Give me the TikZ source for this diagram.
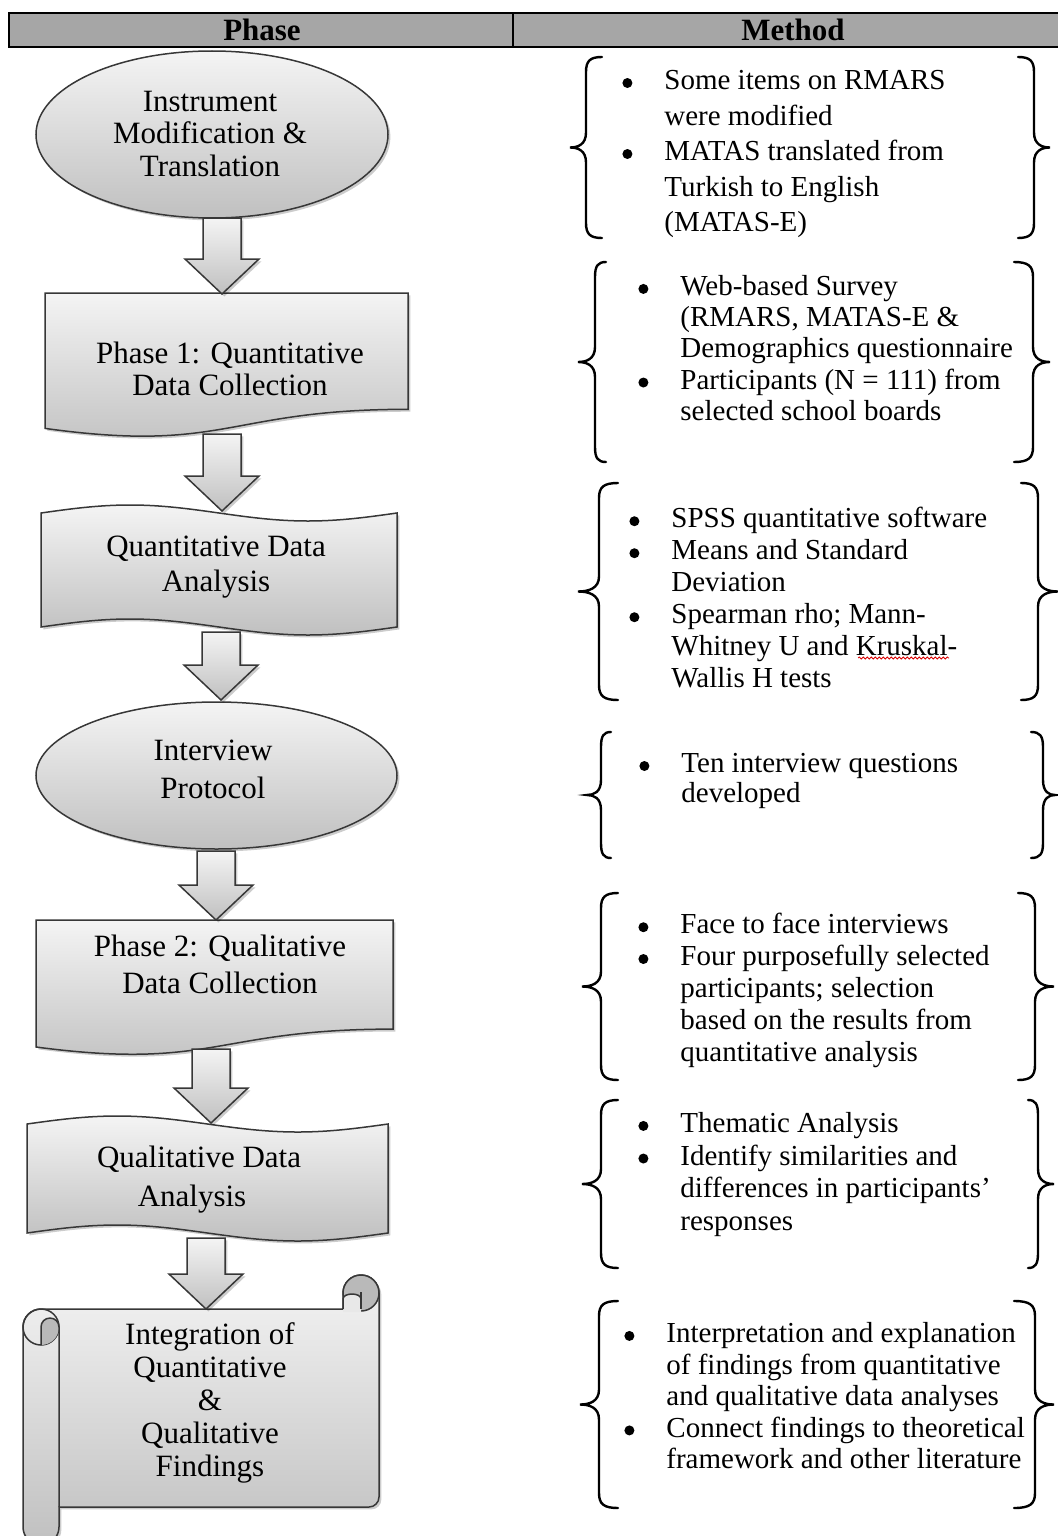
\documentclass[tikz,border=0pt]{standalone}
\usepackage{fontspec}
\setmainfont{Liberation Serif}
\usetikzlibrary{shadows,decorations.pathmorphing,calc}
\definecolor{gtop}{RGB}{244,244,244}
\definecolor{gbot}{RGB}{192,192,192}
\definecolor{hdr}{RGB}{166,166,166}
\definecolor{curl}{RGB}{185,185,185}
\definecolor{notch}{RGB}{232,232,232}
\definecolor{edge}{RGB}{55,55,55}
\newcommand{\itm}{\makebox[21pt][l]{\tikz[baseline=0pt]\fill[black] (2.5pt,3.3pt) circle [radius=2.5pt];}}
\newcommand{\cnt}{\hspace*{21pt}}
\newcommand{\blockarrow}[2]{%
  \path[shp] let \p1=(#1), \p2=(#2) in
  (\x1-9.5pt,\y1) -- (\x1+9.5pt,\y1) -- (\x1+9.5pt,\y2+17.5pt) -- (\x1+18.5pt,\y2+17.5pt)
  -- (\x2,\y2) -- (\x1-18.5pt,\y2+17.5pt) -- (\x1-9.5pt,\y2+17.5pt) -- cycle;}
% #1 tip x, #2 vertical x, #3 end x, #4 top y, #5 bottom y
\newcommand{\curlybrace}[5]{%
  \draw[brc] (#3,#4) .. controls ({#2+0.25*(#3-#2)},#4) and (#2,#4+4) .. (#2,#4+15)
  -- (#2,{(#4+#5)/2-15}) .. controls (#2,{(#4+#5)/2-3}) and ({#1+0.5*(#2-#1)},{(#4+#5)/2}) .. (#1,{(#4+#5)/2})
  .. controls ({#1+0.5*(#2-#1)},{(#4+#5)/2}) and (#2,{(#4+#5)/2+3}) .. (#2,{(#4+#5)/2+15})
  -- (#2,#5-15) .. controls (#2,#5-4) and ({#2+0.25*(#3-#2)},#5) .. (#3,#5);}
\tikzset{
  shp/.style={draw=edge, line width=0.75pt, top color=gtop, bottom color=gbot,
    drop shadow={shadow xshift=1.2pt, shadow yshift=-1.2pt, opacity=0.2, fill=black}},
  eline/.style={draw=edge, line width=0.75pt},
  brc/.style={draw=black, line width=1.2pt, line cap=round},
  ltxt/.style={align=center, inner sep=0pt, font=\fontsize{15.5pt}{#1}\selectfont},
  mtxt/.style={align=left, inner sep=0pt, anchor=north west, font=\fontsize{14.5pt}{#1}\selectfont},
  hd/.style={inner sep=0pt, font=\fontsize{15.5pt}{18pt}\selectfont\bfseries},
}
\begin{document}
\begin{tikzpicture}[x=0.5pt, y=-0.5pt]
\useasboundingbox (0,0) rectangle (1058,1536);

% header
\path[draw=black, line width=1pt, fill=hdr] (9,13) rectangle (1066,47);
\draw[line width=1pt] (513,13) -- (513,47);
\node[hd] (ph) at (262,30) {Phase};
\node[hd] (mt) at (793,30) {Method};

% shapes of the phase column
\path[shp] (212,134.5) ellipse [x radius=88pt, y radius=41.75pt];
\path[shp] (45,293) -- (408,293) -- (408,409.3)
  .. controls (226.5,409.3) and (226.5,453.6) .. (45,428.4) -- cycle;
\path[shp] (41,513) sin (130,505) cos (219,513) sin (308,521) cos (397,513)
  -- (397,627) sin (308,635) cos (219,627) sin (130,619) cos (41,627) -- cycle;
\path[shp] (216.5,775.5) ellipse [x radius=90.25pt, y radius=36.75pt];
\path[shp] (36,920) -- (393,920) -- (393,1029.1)
  .. controls (214.5,1029.1) and (214.5,1070.6) .. (36,1047) -- cycle;
\path[shp] (27,1124) sin (117.25,1116) cos (207.5,1124) sin (297.75,1132) cos (388,1124)
  -- (388,1233) sin (297.75,1241) cos (207.5,1233) sin (117.25,1225) cos (27,1233) -- cycle;
% scroll
\path[shp] (41,1309) -- (343,1309) -- (343,1293)
  .. controls (343,1283.06) and (351.06,1275) .. (361,1275)
  .. controls (370.94,1275) and (379,1283.06) .. (379,1293)
  -- (379,1497) .. controls (379,1502.52) and (374.52,1507) .. (369,1507)
  -- (59,1507) -- (59,1527)
  .. controls (59,1536.94) and (50.94,1545) .. (41,1545)
  .. controls (31.06,1545) and (23,1536.94) .. (23,1527)
  -- (23,1327) .. controls (23,1317.06) and (31.06,1309) .. (41,1309) -- cycle;
% right curl of the scroll
\path[eline, fill=curl] (361,1293) circle [radius=9pt];
\path[fill=notch] (343,1312) -- (343,1299) .. controls (343,1296) and (347,1294) .. (352,1294)
  .. controls (357,1294) and (361,1296) .. (361,1299) -- (361,1312) -- cycle;
\draw[eline] (343,1309) -- (343,1299) .. controls (343,1296) and (347,1294) .. (352,1294)
  .. controls (357,1294) and (361,1296) .. (361,1299);
\draw[eline] (361,1292) -- (361,1309);
% left curl of the scroll
\draw[eline] (41,1327) circle [radius=9pt];
\path[fill=curl] (41,1345) -- (41,1327) .. controls (41,1322) and (45,1318) .. (50,1318)
  .. controls (55,1318) and (59,1322) .. (59,1327)
  .. controls (59,1336.94) and (50.94,1345) .. (41,1345) -- cycle;
\draw[eline] (41,1345) -- (41,1327) .. controls (41,1322) and (45,1318) .. (50,1318)
  .. controls (55,1318) and (59,1322) .. (59,1327) -- (59,1507);

% texts of the phase column
\node[ltxt=16.25pt] (e1) at (210,134) {Instrument\\Modification \&\\Translation};
\node[ltxt=16pt] (b1) at (230,369) {Phase 1: Quantitative\\Data Collection};
\node[ltxt=17.5pt] (w1) at (216,567) {Quantitative Data\\Analysis};
\node[ltxt=19pt] (e2) at (213,769) {Interview\\Protocol};
\node[ltxt=18.5pt] (b2) at (220,964) {Phase 2: Qualitative\\Data Collection};
\node[ltxt=19.5pt] (w2) at (199,1180) {Qualitative Data\\Analysis\hspace*{7pt}};
\node[ltxt=16.6pt] (sc) at (210,1403) {Integration of\\Quantitative\\\&\\Qualitative\\Findings};

% block arrows
\coordinate (a1s) at (222,218);  \coordinate (a1e) at (222,294);
\coordinate (a2s) at (222,434);  \coordinate (a2e) at (222,511);
\coordinate (a3s) at (221,632);  \coordinate (a3e) at (221,700);
\coordinate (a4s) at (216,851);  \coordinate (a4e) at (216,920);
\coordinate (a5s) at (211,1049); \coordinate (a5e) at (211,1123);
\coordinate (a6s) at (206,1238); \coordinate (a6e) at (206,1309);
\blockarrow{a1s}{a1e}
\blockarrow{a2s}{a2e}
\blockarrow{a3s}{a3e}
\blockarrow{a4s}{a4e}
\blockarrow{a5s}{a5e}
\blockarrow{a6s}{a6e}

% braces of the method column
\curlybrace{570}{586}{602}{57}{238}
\curlybrace{1050}{1034}{1018}{57}{238}
\curlybrace{578}{595}{606}{262}{462}
\curlybrace{1050}{1033}{1014}{262}{462}
\curlybrace{578}{599}{618}{483}{700}
\curlybrace{1058}{1038}{1021}{483}{700}
\curlybrace{587}{601}{611}{732}{858}
\curlybrace{1055}{1043}{1031}{732}{858}
\curlybrace{582}{601}{618}{893}{1080}
\curlybrace{1054}{1035}{1018}{893}{1080}
\curlybrace{582}{601}{618}{1100}{1268}
\curlybrace{1054}{1038}{1028}{1100}{1268}
\curlybrace{580}{599}{618}{1301}{1508}
\curlybrace{1054}{1035}{1014}{1301}{1508}

% texts of the method column
\node[mtxt=17.75pt] (m1) at (622,70) {\itm Some items on RMARS\\ \cnt were modified\\ \itm MATAS translated from\\ \cnt Turkish to English\\ \cnt (MATAS-E)};
\node[mtxt=15.6pt] (m2) at (638,275) {\itm Web-based Survey\\ \cnt (RMARS, MATAS-E \&\\ \cnt Demographics questionnaire\\ \itm Participants (N = 111) from\\ \cnt selected school boards};
\node[mtxt=16pt] (m3) at (629,507) {\itm SPSS quantitative software\\ \itm Means and Standard\\ \cnt Deviation\\ \itm Spearman rho; Mann-\\ \cnt Whitney U and Kruskal-\\ \cnt Wallis H tests};
\node[mtxt=15pt] (m4) at (639,753) {\itm Ten interview questions\\ \cnt developed};
\node[mtxt=15.9pt] (m5) at (638,913) {\itm Face to face interviews\\ \itm Four purposefully selected\\ \cnt participants; selection\\ \cnt based on the results from\\ \cnt quantitative analysis};
\node[mtxt=16.3pt] (m6) at (638,1112) {\itm Thematic Analysis\\ \itm Identify similarities and\\ \cnt differences in participants'\\ \cnt responses};
\node[mtxt=15.75pt] (m7) at (624,1322) {\itm Interpretation and explanation\\ \cnt of findings from quantitative\\ \cnt and qualitative data analyses\\ \itm Connect findings to theoretical\\ \cnt framework and other literature};

% spell-check mark under Kruskal
\draw[red!85!black, line width=0.4pt, decorate, decoration={snake, amplitude=0.5pt, segment length=2pt}] (858,658) -- (949,658);
\end{tikzpicture}
\end{document}
